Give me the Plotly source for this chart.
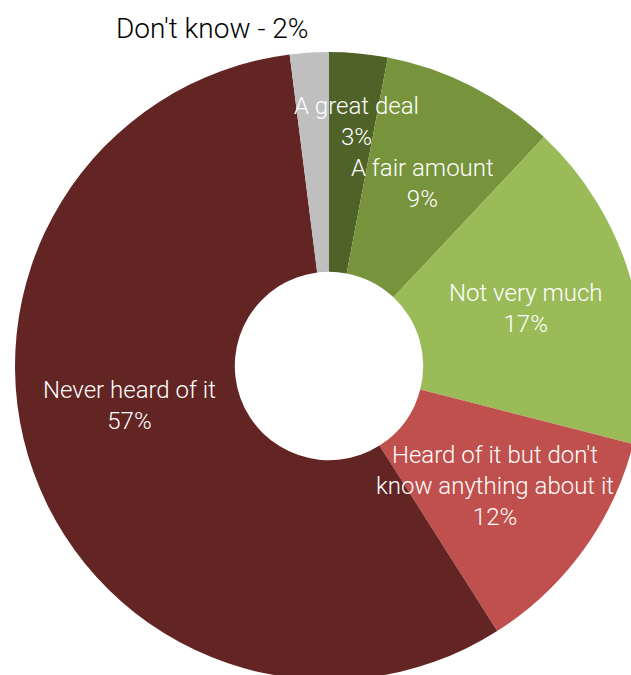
import plotly.graph_objects as go

# Survey answers, in drawing order (clockwise from 12 o'clock)
categories = [
    "A great deal",
    "A fair amount",
    "Not very much",
    "Heard of it but don't<br>know anything about it",
    "Never heard of it",
    "Don't know",
]
values = [3, 9, 17, 12, 57, 2]

# Styling
colors = ["#4F6228", "#77933C", "#9BBB59", "#C0504D", "#632523", "#BFBFBF"]
label_colors = ["white", "white", "white", "white", "white", "black"]
label_sizes = [24, 24, 24, 24, 24, 28]
# label centres in pixels from the top-left of the canvas
label_xy = [(356, 122), (422, 183), (525, 308), (495, 486), (129, 405), (212, 28)]

W, H = 658, 732            # canvas; the page window crops it on the right/bottom
CX, CY, R = 329, 366, 314  # ring centre and outer radius in pixels

fig = go.Figure(
    go.Pie(
        labels=categories,
        values=values,
        sort=False,
        direction="clockwise",
        rotation=0,
        hole=0.3,
        marker=dict(colors=colors, line=dict(width=0)),
        textinfo="none",
        showlegend=False,
        hoverinfo="label+percent",
        domain=dict(
            x=[(CX - R) / W, (CX + R) / W],
            y=[1 - (CY + R) / H, 1 - (CY - R) / H],
        ),
    )
)

total = sum(values)
for i, (cat, val) in enumerate(zip(categories, values)):
    share = f"{val / total:.0%}"
    # the small "Don't know" slice gets a one-line label above the ring
    text = f"{cat} - {share}" if label_colors[i] == "black" else f"{cat}<br>{share}"
    px, py = label_xy[i]
    fig.add_annotation(
        text=text,
        x=px / W, y=1 - py / H, xref="paper", yref="paper",
        xanchor="center", yanchor="middle", align="center",
        showarrow=False,
        font=dict(family="Roboto", size=label_sizes[i], color=label_colors[i], weight=300),
    )

fig.update_layout(
    width=W, height=H,
    margin=dict(l=0, r=0, t=0, b=0),
    paper_bgcolor="white",
    plot_bgcolor="white",
)

fig.write_html(
    "out.html",
    post_script="document.documentElement.style.overflow='hidden';"
                "document.body.style.overflow='hidden';document.body.style.margin='0';",
)
